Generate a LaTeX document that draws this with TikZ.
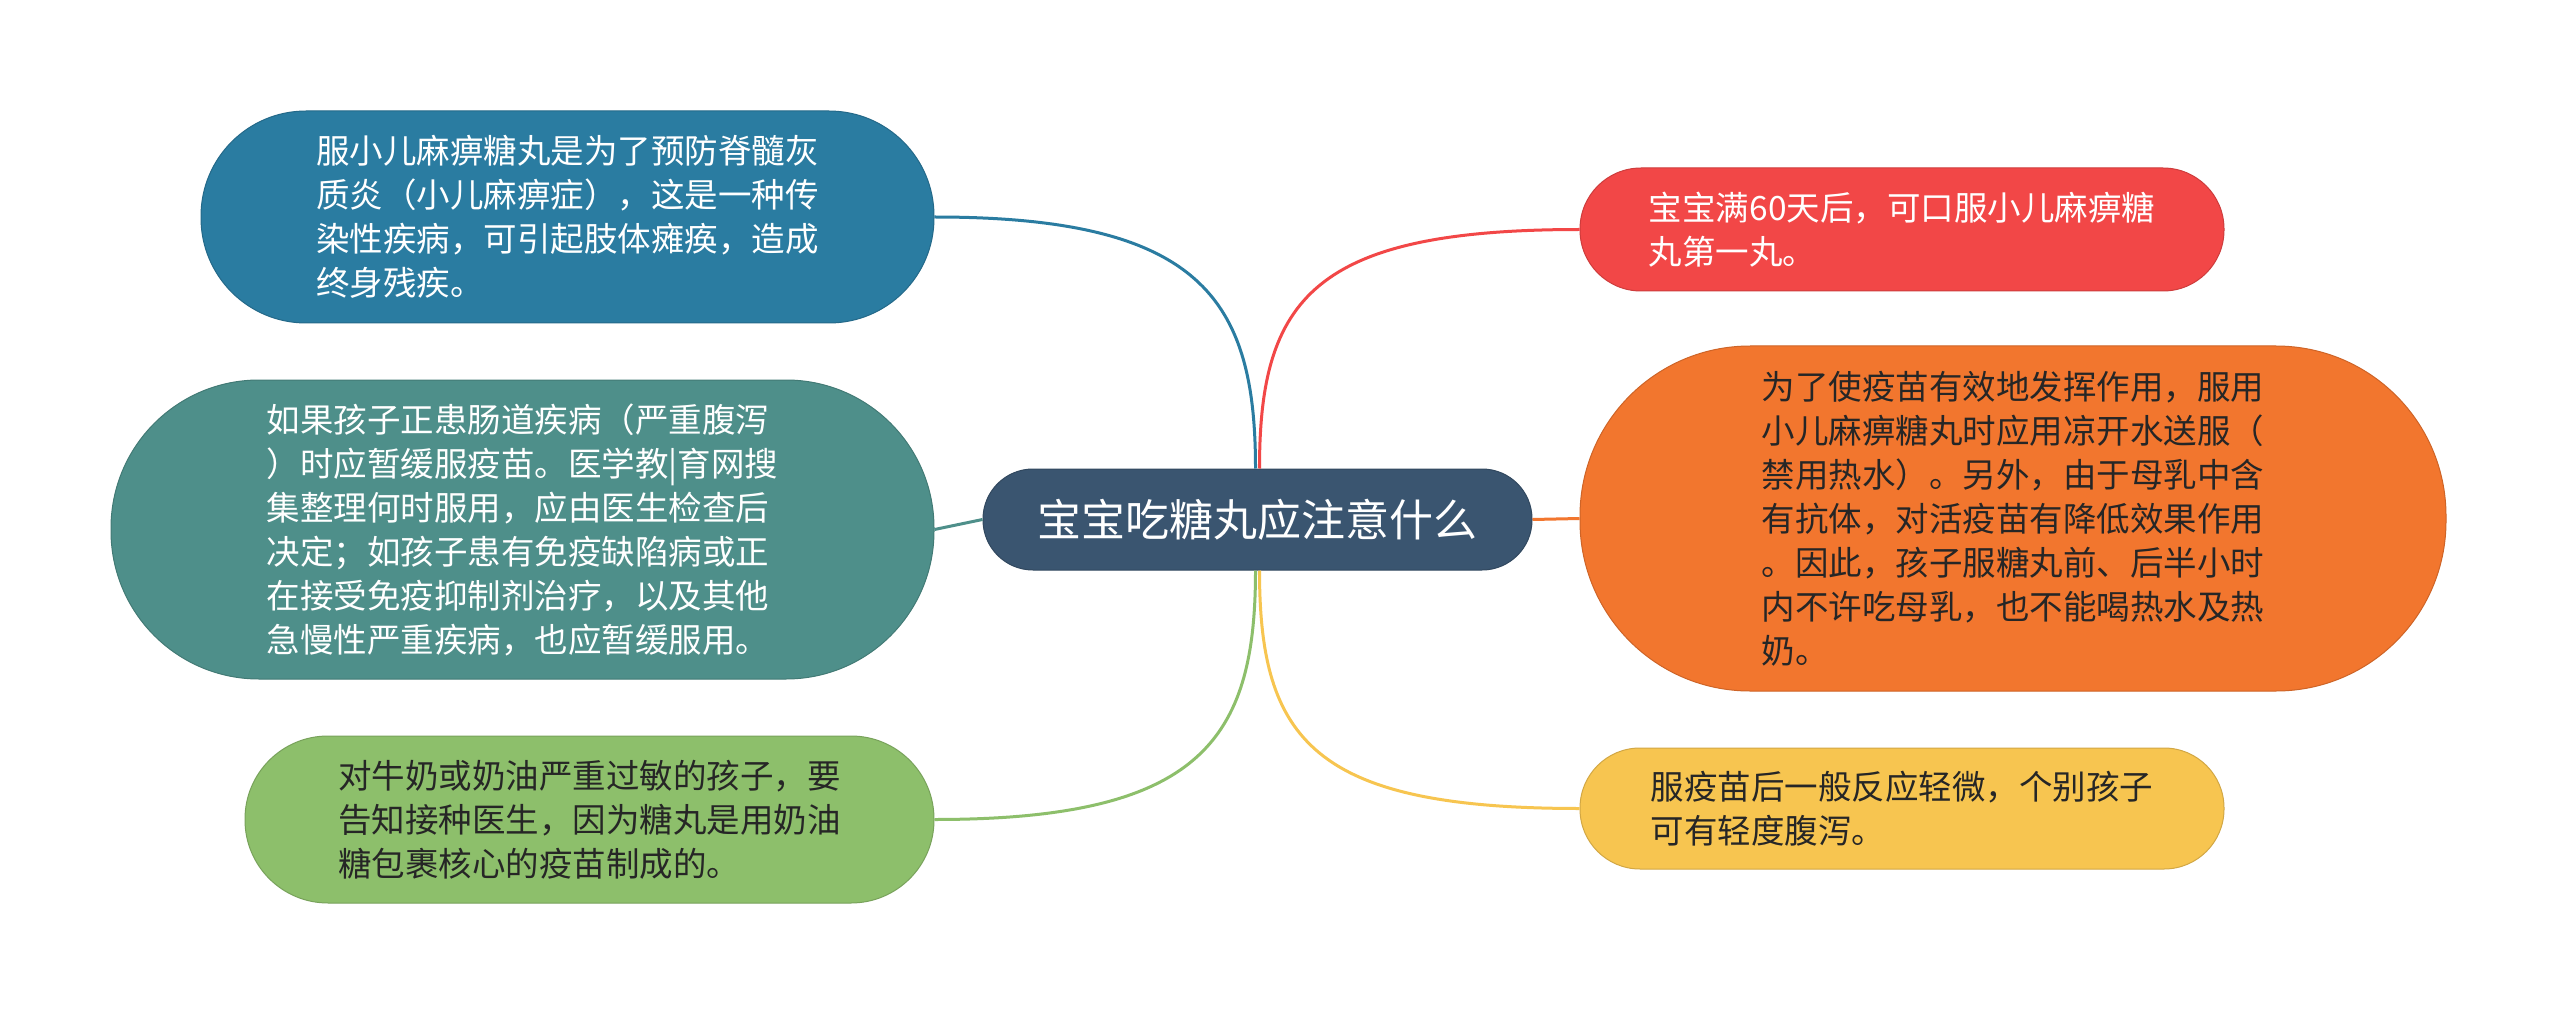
\documentclass[tikz,border=0pt]{standalone}
\usepackage{fontspec}
\setmainfont{Noto Sans CJK SC}
\definecolor{cRoot}{HTML}{3A5570}
\definecolor{cA}{HTML}{2A7CA1}
\definecolor{cB}{HTML}{4E8F8A}
\definecolor{cC}{HTML}{8DBF6B}
\definecolor{cD}{HTML}{F24747}
\definecolor{cE}{HTML}{F2762E}
\definecolor{cF}{HTML}{F7C550}
\definecolor{cDark}{HTML}{262626}
\begin{document}
\begin{tikzpicture}[x=1pt,y=-1pt,
  bubble/.style={rectangle, inner sep=0pt, align=left, line width=1pt,
    font=\fontsize{33.5}{44}\selectfont},
  link/.style={line width=3pt}]
\fill[white] (0,0) rectangle (2560,1016);
\useasboundingbox (0,0) rectangle (2560,1016);
% root
\node[bubble, fill=cRoot, draw=cRoot!85!black, text=white, minimum width=549pt, minimum height=101pt,
  rounded corners=50pt, font=\fontsize{44}{52}\selectfont] (root) at (1257.5,519.5) {宝宝吃糖丸应注意什么};
% left
\node[bubble, fill=cA, draw=cA!85!black, text=white, minimum width=733pt, minimum height=212pt,
  rounded corners=105pt] (n1) at (567.5,217)
  {服小儿麻痹糖丸是为了预防脊髓灰\\质炎（小儿麻痹症），这是一种传\\染性疾病，可引起肢体瘫痪，造成\\终身残疾。};
\node[bubble, fill=cB, draw=cB!85!black, text=white, minimum width=823pt, minimum height=299pt,
  rounded corners=148pt] (n2) at (522.5,529.5)
  {如果孩子正患肠道疾病（严重腹泻\\）时应暂缓服疫苗。医学教|育网搜\\集整理何时服用，应由医生检查后\\决定；如孩子患有免疫缺陷病或正\\在接受免疫抑制剂治疗，以及其他\\急慢性严重疾病，也应暂缓服用。};
\node[bubble, fill=cC, draw=cC!85!black, text=cDark, minimum width=689pt, minimum height=167pt,
  rounded corners=83pt] (n3) at (589.5,819.5)
  {对牛奶或奶油严重过敏的孩子，要\\告知接种医生，因为糖丸是用奶油\\糖包裹核心的疫苗制成的。};
% right
\node[bubble, fill=cD, draw=cD!85!black, text=white, minimum width=644pt, minimum height=123pt,
  rounded corners=61pt] (n4) at (1902,229.5)
  {宝宝满60天后，可口服小儿麻痹糖\\丸第一丸。};
\node[bubble, fill=cE, draw=cE!85!black, text=cDark, minimum width=866pt, minimum height=345pt,
  rounded corners=170pt] (n5) at (2013,518.5)
  {为了使疫苗有效地发挥作用，服用\\小儿麻痹糖丸时应用凉开水送服（\\禁用热水）。另外，由于母乳中含\\有抗体，对活疫苗有降低效果作用\\。因此，孩子服糖丸前、后半小时\\内不许吃母乳，也不能喝热水及热\\奶。};
\node[bubble, fill=cF, draw=cF!85!black, text=cDark, minimum width=644pt, minimum height=121pt,
  rounded corners=60pt] (n6) at (1902,808.5)
  {服疫苗后一般反应轻微，个别孩子\\可有轻度腹泻。};
% connectors
\draw[link,cA] ([xshift=-2pt]root.north) .. controls +(0,-170) and +(266,0) .. (n1.east);
\draw[link,cD] ([xshift=2pt]root.north) .. controls +(0,-170) and +(-266,0) .. (n4.west);
\draw[link,cB] (n2.east) -- (root.west);
\draw[link,cE] (root.east) -- (n5.west);
\draw[link,cC] ([xshift=-2pt]root.south) .. controls +(0,170) and +(266,0) .. (n3.east);
\draw[link,cF] ([xshift=2pt]root.south) .. controls +(0,170) and +(-266,0) .. (n6.west);
\end{tikzpicture}
\end{document}
